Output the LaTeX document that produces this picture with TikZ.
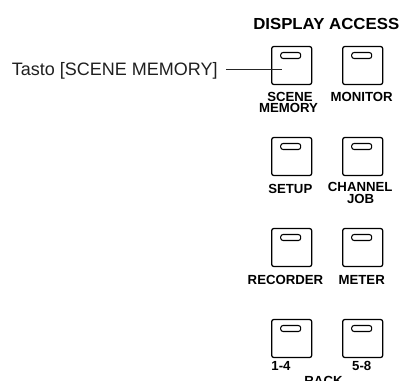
\documentclass[tikz,border=0pt]{standalone}
\usepackage{fontspec}
\setmainfont{Liberation Sans}
\newfontfamily\headfont[FakeStretch=1.05]{Liberation Sans Bold}
\newfontfamily\lblfont{Liberation Sans Bold}
\begin{document}
\begin{tikzpicture}[x=0.75pt,y=-0.75pt,
  btn/.style={draw=black,line width=0.95pt,rounded corners=1.6pt,minimum width=30pt,minimum height=28.5pt,inner sep=0pt,fill=white},
  led/.style={draw=black,line width=0.8pt,rounded corners=1.8pt,minimum width=15pt,minimum height=4.5pt,inner sep=0pt},
  lbl/.style={anchor=base,inner sep=0pt,font=\lblfont\fontsize{9.9pt}{10pt}\selectfont},
  leader/.style={draw=black!85,line width=0.75pt}]
\useasboundingbox (0,0) rectangle (399,380);
% heading
\node[anchor=base west,inner sep=0pt,font=\headfont\fontsize{12pt}{13pt}\selectfont] (head) at (253,29.5) {DISPLAY ACCESS};
% callout text
\node[anchor=base west,inner sep=0pt,text=black!88,font=\fontsize{13.5pt}{14pt}\selectfont] (tasto) at (11.7,75.7) {Tasto [SCENE MEMORY]};
% buttons
\node[btn] (b1) at (291.7,65.5) {};
\node[btn] (b2) at (362.7,65.5) {};
\node[btn] (b3) at (291.7,156.5) {};
\node[btn] (b4) at (362.7,156.5) {};
\node[btn] (b5) at (291.7,247.5) {};
\node[btn] (b6) at (362.7,247.5) {};
\node[btn] (b7) at (291.7,338.5) {};
\node[btn] (b8) at (362.7,338.5) {};
% LEDs
\node[led] (d1) at (290.7,55.5) {};
\node[led] (d2) at (361.7,55.5) {};
\node[led] (d3) at (290.7,146.5) {};
\node[led] (d4) at (361.7,146.5) {};
\node[led] (d5) at (290.7,237.5) {};
\node[led] (d6) at (361.7,237.5) {};
\node[led] (d7) at (290.7,328.5) {};
\node[led] (d8) at (361.7,328.5) {};
% labels
\node[lbl] (t1a) at (290,101.3) {SCENE};
\node[lbl] (t1b) at (288.5,112.3) {MEMORY};
\node[lbl] (t2) at (361.7,101.3) {MONITOR};
\node[lbl] (t3) at (290.3,193.3) {SETUP};
\node[lbl] (t4a) at (360.2,191.8) {CHANNEL};
\node[lbl] (t4b) at (360.7,203.3) {JOB};
\node[lbl] (t5) at (285.5,284) {RECORDER};
\node[lbl] (t6) at (361.7,284) {METER};
\node[lbl] (t7) at (281,370) {1-4};
\node[lbl] (t8) at (361.7,370) {5-8};
\node[lbl] (t9) at (323.5,385) {RACK};
% leader line
\coordinate (tip) at (281.7,69);
\draw[leader] ([xshift=6pt]tip -| tasto.east) -- (tip);
\end{tikzpicture}
\end{document}
